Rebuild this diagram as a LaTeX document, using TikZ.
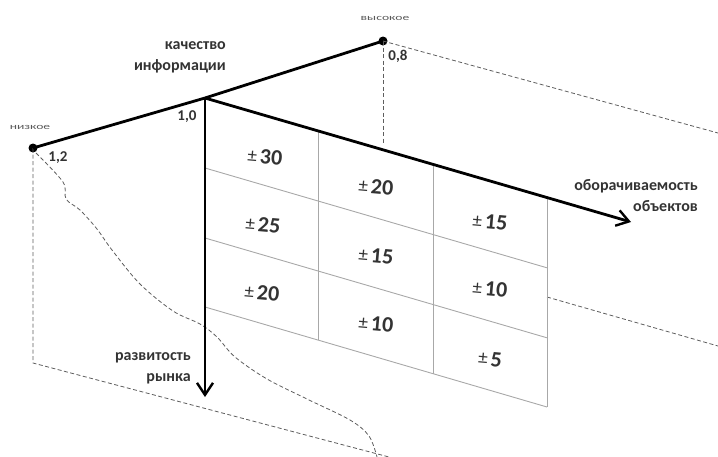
\documentclass[tikz,border=0pt]{standalone}
\usepackage{fontspec}
\setmainfont{Carlito}
\usetikzlibrary{arrows.meta}
\definecolor{gridc}{HTML}{A8A8A8}
\definecolor{dashc}{HTML}{5E5E5E}
\begin{document}
\begin{tikzpicture}[x=1pt,y=-1pt,
  axis/.style={line width=2.8pt, black},
  axarrow/.style={axis, -{Straight Barb[length=12pt,width=16pt,line width=2.4pt]}},
  cell/.style={draw=gridc, line width=0.9pt},
  guide/.style={draw=dashc, line width=0.8pt, dash pattern=on 4pt off 2.5pt},
  lbl/.style={font=\fontsize{16}{21}\selectfont\bfseries, text=black!80, inner sep=0pt, align=right},
  tiny/.style={font=\fontsize{8.5}{9}\selectfont, text=black!65, inner sep=0pt, xscale=1.6},
  num/.style={font=\fontsize{15}{16}\selectfont\bfseries, text=black!80, inner sep=0pt},
  val/.style={font=\fontsize{22}{24}\selectfont\bfseries, text=black!80, inner sep=0pt, rotate=-5},
  dot/.style={circle, fill=black, inner sep=0pt, minimum size=9pt}
]
\useasboundingbox (0,0) rectangle (718,456);
\clip (0,0) rectangle (718,456);

% key points
\coordinate (O) at (205,98);
\node[dot] (L) at (33,148) {};
\node[dot] (R) at (383,41) {};
\coordinate (Dn) at (205,397);
\coordinate (Dg) at (631,222);

% guides (dashed)
\coordinate (Lb) at (33,363);
\coordinate (Lend) at (389,457);
\coordinate (Rb) at (383,143);
\coordinate (Rend) at (718,133);
\coordinate (Ge) at (547,297);
\coordinate (Gend) at (718,346);
\draw[guide] (L.center) -- (Lb) -- (Lend);
\draw[guide] (R.center) -- (Rb);
\draw[guide] (R.center) -- (Rend);
\draw[guide] (Ge) -- (Gend);
\draw[guide] plot[smooth, tension=0.55] coordinates {(36,153) (63,182) (66,199) (80,210) (97,229) (112,250) (140,284) (173,311) (200,324) (217,337) (235,357) (267,379) (307,399) (350,420) (369,436) (377,457)};

% grid
\coordinate (t1) at (318,131);
\coordinate (t2) at (433,164.5);
\coordinate (t3) at (547,198);
\coordinate (b1) at (318,340);
\coordinate (b2) at (433,373.5);
\coordinate (b3) at (547,407);
\coordinate (r1a) at (205,168); \coordinate (r1b) at (547,267.8);
\coordinate (r2a) at (205,238); \coordinate (r2b) at (547,337.8);
\coordinate (r3a) at (205,307); \coordinate (r3b) at (547,407);
\draw[cell] (t1) -- (b1);
\draw[cell] (t2) -- (b2);
\draw[cell] (t3) -- (b3);
\draw[cell] (r1a) -- (r1b);
\draw[cell] (r2a) -- (r2b);
\draw[cell] (r3a) -- (r3b);

% values
\newcommand{\pmv}[1]{{\fontsize{19}{19}\mdseries\selectfont\raisebox{1.5pt}{±}}\hspace{3pt}#1}
\node[val] (v11) at (265,157) {\pmv{30}};
\node[val] (v12) at (263,225) {\pmv{25}};
\node[val] (v13) at (262,293) {\pmv{20}};
\node[val] (v21) at (376,187) {\pmv{20}};
\node[val] (v22) at (376,256) {\pmv{15}};
\node[val] (v23) at (376,324) {\pmv{10}};
\node[val] (v31) at (490,222) {\pmv{15}};
\node[val] (v32) at (490,289) {\pmv{10}};
\node[val] (v33) at (490,359) {\pmv{5}};

% axes
\draw[axis] (L.center) -- (O) -- (R.center);
\draw[axarrow] (O) -- (Dn);
\draw[axarrow] (O) -- (Dg);

% labels
\node[tiny] (lo) at (30,127) {низкое};
\node[tiny] (hi) at (385,18) {высокое};
\node[num] (n12) at (58,158) {1,2};
\node[num] (n10) at (187,117) {1,0};
\node[num] (n08) at (398,56) {0,8};
\node[lbl, anchor=east] (q) at (226,57.5) {качество\\информации};
\node[lbl, anchor=east] (t) at (698,196) {оборачиваемость\\объектов};
\node[lbl, anchor=east] (m) at (191,368) {развитость\\рынка};
\end{tikzpicture}
\end{document}
